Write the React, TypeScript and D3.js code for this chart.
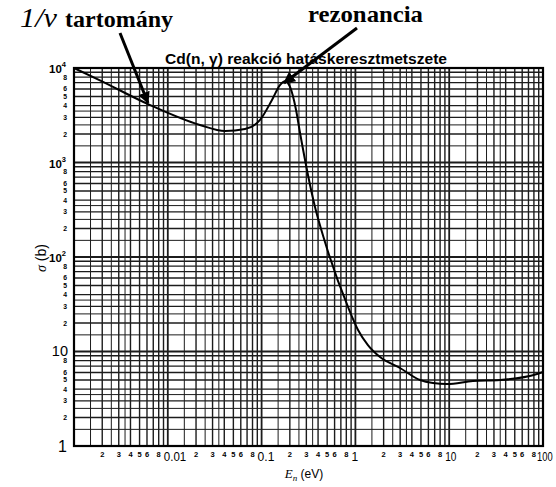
import React from "react";
import * as d3 from "d3";

// Energy (eV) and cross-section (barn)
const energies = [0.001, 0.00189, 0.00615, 0.022, 0.0407, 0.0665, 0.0962, 0.129, 0.157, 0.178, 0.201, 0.233, 0.257, 0.371, 0.474, 0.834, 1.067, 1.36, 1.83, 2.99, 4.89, 6.72, 9.48, 17.9, 34.8, 86.3, 100];
const sigmas = [10000, 7400, 4150, 2495, 2155, 2262, 2818, 4585, 6600, 7250, 6300, 3593, 2053, 338, 144, 29.6, 16.9, 11.7, 8.74, 6.69, 4.99, 4.64, 4.53, 4.87, 4.99, 5.78, 6.07];

const xDecades = [0.001, 0.01, 0.1, 1, 10, 100];
const xDecadeLabels = ["", "0.01", "0.1", "1", "10", "100"];
const yDecades = [1, 10, 100, 1000, 10000];
const minorSteps = [1.5, 2, 2.5, 3, 3.5, 4, 5, 6, 7, 8, 9];
const labeledMinor = [2, 3, 4, 5, 6, 8];
const yLabeledMinor = [2, 3, 4, 5, 6, 8];

const title = "Cd(n, γ) reakció hatáskeresztmetszete";

export default function App() {
  const W = 556, H = 487;
  const x = d3.scaleLog().domain([0.001, 100]).range([74, 543]);
  const y = d3.scaleLog().domain([1, 10000]).range([446, 68]);

  const xMinor: number[] = [];
  xDecades.slice(0, -1).forEach((d) => minorSteps.forEach((m) => xMinor.push(d * m)));
  const yMinor: number[] = [];
  yDecades.slice(0, -1).forEach((d) => minorSteps.forEach((m) => yMinor.push(d * m)));

  const xSmall: number[] = [];
  xDecades.slice(0, -1).forEach((d) => labeledMinor.forEach((m) => xSmall.push(d * m)));
  const ySmall: number[] = [];
  yDecades.slice(0, -1).forEach((d) => yLabeledMinor.forEach((m) => ySmall.push(d * m)));

  const pts = energies.map((e, i) => [x(e), y(sigmas[i])] as [number, number]);
  const path = d3.line().curve(d3.curveMonotoneX)(pts) || "";

  const gridColor = "#1c1c1c";
  const mant = (v: number) => Math.round((v / Math.pow(10, Math.floor(Math.log10(v) + 1e-9))) * 100) / 100;
  const fmtMinor = (v: number) => String(Math.round(mant(v)));
  const isInt = (v: number) => Number.isInteger(mant(v));

  const sans = "Liberation Sans, Arial, sans-serif";
  const serif = "Liberation Serif, Times New Roman, serif";

  const yDecLabel = (d: number, i: number) => {
    const yy = y(d);
    if (d === 1) return <text key={"yd" + i} x={67} y={yy + 6} textAnchor="end" fontSize={16} fontFamily={sans}>1</text>;
    if (d === 10) return <text key={"yd" + i} x={68} y={yy + 4} textAnchor="end" fontSize={14.5} fontFamily={sans}>10</text>;
    const exp = Math.round(Math.log10(d));
    return (
      <text key={"yd" + i} x={66} y={yy + 5} textAnchor="end" fontSize={11.5} fontWeight="bold" fontFamily={sans}>
        10<tspan dy={-6} fontSize={7.5}>{exp}</tspan>
      </text>
    );
  };

  return (
    <svg width={W} height={H} style={{ position: "absolute", left: 0, top: 0, background: "#fff" }}>
      <defs>
        <marker id="ah" viewBox="0 0 10 10" refX="9" refY="5" markerWidth="4" markerHeight="4" orient="auto">
          <path d="M0,0 L10,5 L0,10 z" fill="#000" />
        </marker>
      </defs>
      <rect x={0} y={0} width={W} height={H} fill="#fff" />
      {/* grid */}
      <g stroke={gridColor}>
        {xMinor.map((v, i) => (
          <line key={"xm" + i} x1={x(v)} x2={x(v)} y1={68} y2={446} strokeWidth={isInt(v) ? 1.4 : 1} />
        ))}
        {xDecades.map((v, i) => (
          <line key={"xd" + i} x1={x(v)} x2={x(v)} y1={68} y2={446} strokeWidth={1.8} />
        ))}
        {yMinor.map((v, i) => (
          <line key={"ym" + i} x1={74} x2={543} y1={y(v)} y2={y(v)} strokeWidth={isInt(v) ? 1.4 : 1} />
        ))}
        {yDecades.map((v, i) => (
          <line key={"yd" + i} x1={74} x2={543} y1={y(v)} y2={y(v)} strokeWidth={1.8} />
        ))}
      </g>
      <rect x={74} y={68} width={469} height={378} fill="none" stroke="#000" strokeWidth={2.2} />

      {/* curve */}
      <path d={path} fill="none" stroke="#000" strokeWidth={2} />

      {/* x tick labels */}
      {xSmall.map((v, i) => (
        <text key={"xs" + i} x={x(v)} y={457} textAnchor="middle" fontSize={7.5} fontWeight="bold" fontFamily={sans}>{fmtMinor(v)}</text>
      ))}
      {xDecades.map((v, i) => (
        xDecadeLabels[i] ? <text key={"xdl" + i} x={x(v) - (i === 5 ? 6 : 4)} y={461} textAnchor="start" fontSize={12} fontFamily={sans}
          textLength={xDecadeLabels[i].length === 1 ? undefined : xDecadeLabels[i].length * (i === 5 ? 5.2 : 5.6)} lengthAdjust="spacingAndGlyphs">{xDecadeLabels[i]}</text> : null
      ))}
      {/* y tick labels */}
      {ySmall.map((v, i) => (
        <text key={"ys" + i} x={67} y={y(v) + 2.5} textAnchor="end" fontSize={6.8} fontWeight="bold" fontFamily={sans}>{fmtMinor(v)}</text>
      ))}
      {yDecades.map((d, i) => yDecLabel(d, i))}

      {/* axis titles */}
      <text x={304} y={478} textAnchor="middle" fontSize={13} fontFamily={serif}>
        <tspan fontStyle="italic">E</tspan><tspan fontStyle="italic" fontSize={9} dy={3}>n</tspan>
        <tspan dy={-3} fontFamily={sans} fontSize={12}> (eV)</tspan>
      </text>
      <text transform="translate(46,258) rotate(-90)" textAnchor="middle" fontSize={14} fontFamily={sans}>
        <tspan fontStyle="italic" fontFamily={serif}>σ</tspan> (b)
      </text>

      {/* chart title */}
      <text x={165} y={64} fontSize={14} fontWeight="bold" fontFamily={sans} textLength={282} lengthAdjust="spacingAndGlyphs">{title}</text>

      {/* annotations */}
      <text x={20} y={27} fontSize={28} fontStyle="italic" fontFamily={serif} textLength={37} lengthAdjust="spacingAndGlyphs">1/v</text>
      <text x={65} y={27} fontSize={23} fontWeight="bold" fontFamily={serif} textLength={108} lengthAdjust="spacingAndGlyphs">tartomány</text>
      <text x={308} y={22} fontSize={24} fontWeight="bold" fontFamily={serif} textLength={115} lengthAdjust="spacingAndGlyphs">rezonancia</text>
      <line x1={120} y1={33} x2={148} y2={103} stroke="#000" strokeWidth={3} markerEnd="url(#ah)" />
      <line x1={357} y1={28} x2={284} y2={83} stroke="#000" strokeWidth={3} markerEnd="url(#ah)" />
    </svg>
  );
}
